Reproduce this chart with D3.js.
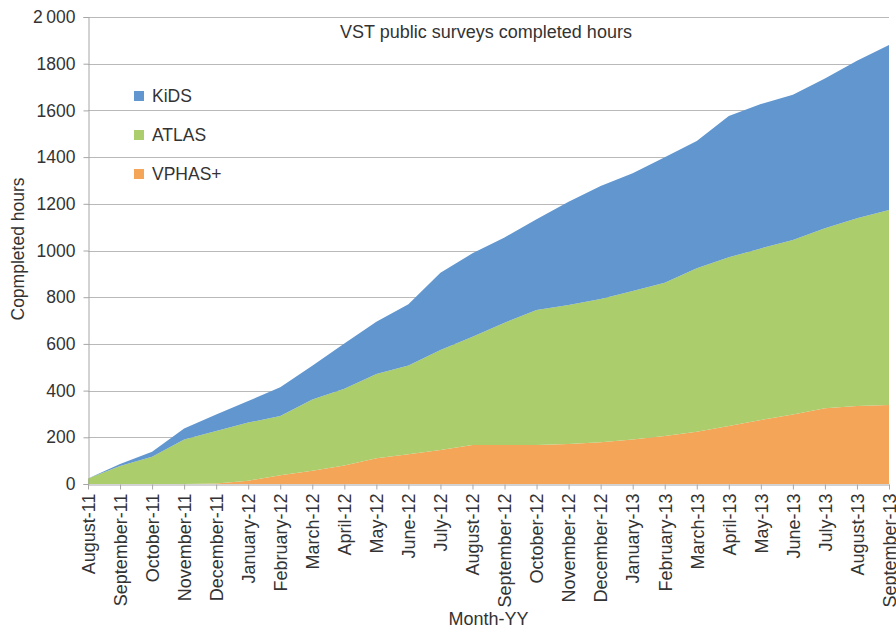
<!DOCTYPE html>
<html lang="en">
<head>
  <meta charset="UTF-8">
  <title>VST public surveys completed hours</title>
  <script src="https://cdn.jsdelivr.net/npm/d3@7"></script>
  <style>
    body { margin: 0; background: #fff; }
    text { font-family: "Liberation Sans", Arial, sans-serif; fill: #333; }
  </style>
</head>
<body>
  <div id="chart"></div>
  <script>
    // Months on the x axis
    const months = ['August-11', 'September-11', 'October-11', 'November-11', 'December-11',
      'January-12', 'February-12', 'March-12', 'April-12', 'May-12', 'June-12', 'July-12',
      'August-12', 'September-12', 'October-12', 'November-12', 'December-12', 'January-13',
      'February-13', 'March-13', 'April-13', 'May-13', 'June-13', 'July-13', 'August-13', 'September-13'];

    // Completed hours per survey (stacked: VPHAS+ bottom, ATLAS, KiDS top)
    const vphas = [0, 0, 0, 0, 2, 14, 38, 57, 79, 110, 127, 146, 167, 167, 167, 171, 179, 191, 206, 224, 248, 274, 298, 324, 334, 338];
    const atlas = [24, 77, 117, 191, 225, 249, 253, 305, 329, 361, 380, 428, 464, 524, 578, 596, 613, 636, 656, 700, 723, 735, 747, 771, 804, 835];
    const kids = [0, 9, 21, 47, 71, 92, 123, 144, 194, 224, 263, 331, 357, 365, 389, 442, 484, 504, 537, 545, 605, 618, 622, 642, 675, 707];

    const seriesNames = ['VPHAS+', 'ATLAS', 'KiDS'];
    const legendOrder = ['KiDS', 'ATLAS', 'VPHAS+'];
    const yTicks = [0, 200, 400, 600, 800, 1000, 1200, 1400, 1600, 1800, 2000];

    const colors = { 'KiDS': '#6196cf', 'ATLAS': '#abcd6c', 'VPHAS+': '#f4a557' };

    const width = 896, height = 629;
    const margin = { top: 17, right: 7, bottom: 145, left: 88 };
    const font = '"Liberation Sans", Arial, sans-serif';

    const rows = months.map((m, i) => ({ month: m, 'VPHAS+': vphas[i], 'ATLAS': atlas[i], 'KiDS': kids[i] }));
    const stacked = d3.stack().keys(seriesNames)(rows);

    const svg = d3.select('#chart').append('svg')
      .attr('width', width)
      .attr('height', height);

    const x = d3.scalePoint()
      .domain(months)
      .range([margin.left, width - margin.right]);

    const y = d3.scaleLinear()
      .domain([0, 2000])
      .range([height - margin.bottom, margin.top]);

    // Gridlines
    svg.append('g')
      .selectAll('line')
      .data(yTicks.filter(d => d > 0))
      .enter()
      .append('line')
        .attr('x1', margin.left)
        .attr('x2', width - margin.right)
        .attr('y1', d => Math.round(y(d)) + 0.5)
        .attr('y2', d => Math.round(y(d)) + 0.5)
        .style('stroke', '#b9b9b9')
        .style('stroke-width', 1);

    // Stacked areas
    const area = d3.area()
      .x(d => x(d.data.month))
      .y0(d => y(d[0]))
      .y1(d => y(d[1]));

    svg.append('g')
      .selectAll('path')
      .data(stacked)
      .enter()
      .append('path')
        .attr('d', area)
        .style('fill', d => colors[d.key]);

    // Y axis
    const yAxis = svg.append('g')
      .attr('transform', `translate(${margin.left + 0.5},0)`)
      .call(d3.axisLeft(y).tickValues(yTicks).tickSize(5).tickPadding(8)
        .tickFormat(d => d === 2000 ? '2\u2009000' : d));
    yAxis.select('.domain').style('stroke', '#a6a6a6');
    yAxis.selectAll('.tick line').style('stroke', '#a6a6a6');
    yAxis.selectAll('text')
      .style('font-size', '17.5px')
      .style('font-family', font)
      .style('fill', '#333');

    // X axis
    const xAxis = svg.append('g')
      .attr('transform', `translate(0,${height - margin.bottom + 0.5})`)
      .call(d3.axisBottom(x).tickSize(5).tickSizeOuter(0));
    xAxis.select('.domain').style('stroke', '#a6a6a6');
    xAxis.selectAll('.tick line').style('stroke', '#a6a6a6');
    xAxis.selectAll('text')
      .attr('transform', 'rotate(-90)')
      .attr('x', -9)
      .attr('y', 0)
      .attr('dy', '0.35em')
      .style('text-anchor', 'end')
      .style('font-size', '18px')
      .style('font-family', font)
      .style('fill', '#333');

    // Titles
    svg.append('text')
      .attr('x', 486)
      .attr('y', 38)
      .attr('text-anchor', 'middle')
      .style('font-size', '18px')
      .text('VST public surveys completed hours');

    svg.append('text')
      .attr('x', (margin.left + width - margin.right) / 2)
      .attr('y', 625)
      .attr('text-anchor', 'middle')
      .style('font-size', '18px')
      .text('Month-YY');

    svg.append('text')
      .attr('transform', 'translate(24,249) rotate(-90)')
      .attr('text-anchor', 'middle')
      .style('font-size', '17.5px')
      .text('Copmpleted hours');

    // Legend
    const legend = svg.append('g')
      .selectAll('g')
      .data(legendOrder)
      .enter()
      .append('g')
        .attr('transform', (d, i) => `translate(134,${91 + i * 39})`);

    legend.append('rect')
      .attr('width', 10)
      .attr('height', 10)
      .style('fill', d => colors[d]);

    legend.append('text')
      .attr('x', 18)
      .attr('y', 5)
      .attr('dy', '0.35em')
      .style('font-size', '17.5px')
      .text(d => d);
  </script>
</body>
</html>
